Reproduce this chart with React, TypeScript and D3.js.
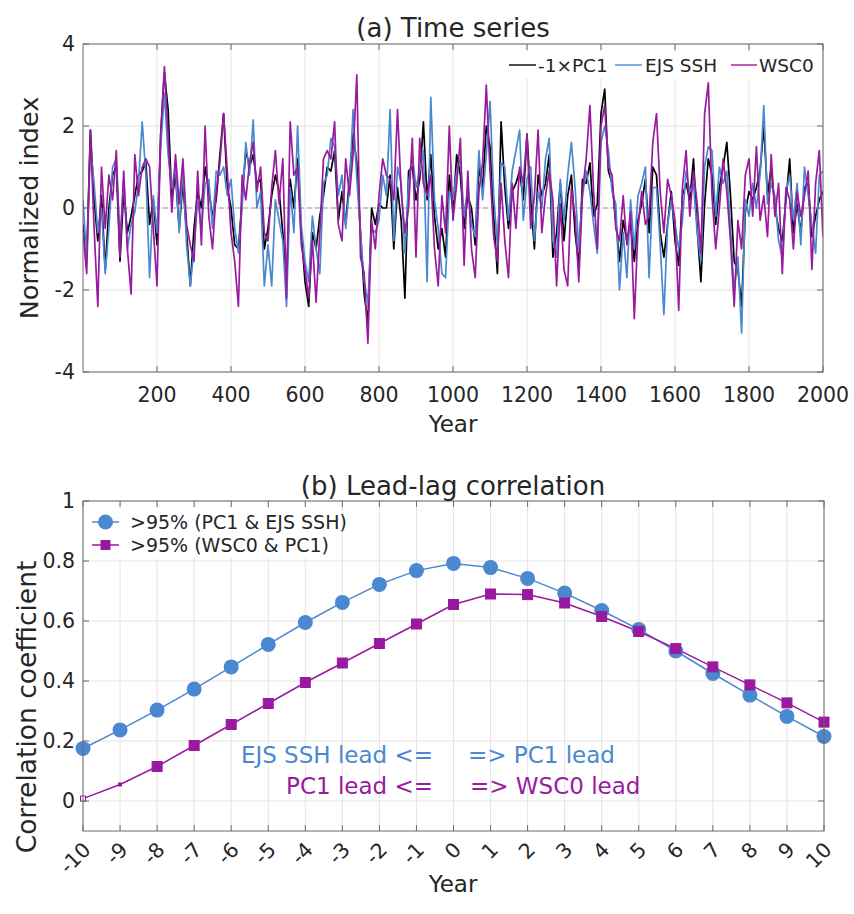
import React from 'react';
import * as d3 from 'd3';

// ---- Panel (a) data: normalized indices, sampled every 10 years (year 0 .. 2000) ----
const pc1Neg = [
  -0.4, -1.2, 1.9, 0.2, -0.8, 0.3, -1.5, 0.0, 0.8, 1.0,
  -1.3, 0.4, -0.6, -0.2, 0.3, 0.8, 0.9, 1.1, -0.4, 0.2,
  -0.9, 1.8, 3.3, 2.4, 0.2, 0.8, -0.5, 0.6, -0.6, -1.9,
  -0.5, 0.4, 0.0, 1.0, 0.4, -0.2, 0.2, 1.3, 2.3, 0.5,
  0.0, -0.9, -1.0, 0.2, 1.4, 1.0, 1.3, 0.6, 0.7, -1.0,
  -0.5, 0.3, 0.8, 0.4, -0.6, -1.8, 0.7, 0.0, 1.2, -0.6,
  -1.8, -2.4, -0.6, -1.0, -0.2, 0.3, 1.0, 0.9, 1.4, -0.3,
  0.4, -0.4, 0.7, 1.8, 1.1, -0.6, -2.1, -2.8, 0.0, -0.4,
  0.1, 0.0, 0.0, 0.8, -1.0, 0.5, -0.3, -2.2, 0.9, 1.0,
  0.2, 0.7, 2.1, 0.2, 1.3, -0.2, -1.0, -0.5, -1.2, 0.8,
  -0.1, 1.3, 0.8, -0.5, 0.3, 0.0, -0.9, 1.0, 0.5, 2.0,
  1.5, -0.2, -1.6, 2.1, 0.5, -0.5, 0.4, 0.6, 0.9, 0.2,
  1.8, 0.2, -1.0, 0.8, 0.3, 0.6, 1.3, -1.2, -0.6, 0.6,
  -0.8, 0.3, 0.8, -0.6, -1.4, 0.7, 0.6, 1.1, -0.2, 0.1,
  2.3, 2.9, 0.9, 0.6, -0.3, -1.3, -0.3, -0.8, -0.4, -1.3,
  -0.3, 0.1, 0.7, -0.6, 1.0, 0.8, -0.6, -1.2, -0.4, 0.4,
  -0.8, -1.4, 0.3, 0.6, 0.2, 1.2, -0.5, -1.8, 0.1, 1.2,
  0.8, -0.4, 0.5, 1.0, 1.6, 0.3, -1.3, -1.5, -2.4, -0.1,
  0.4, 0.2, 0.5, 0.9, 2.0, 0.3, 1.0, 0.0, -0.5, -0.8,
  0.2, 1.2, -0.6, 0.1, -0.6, 0.5, 0.6, -0.7, -0.2, 0.2,
  0.4,
];
const ejsSsh = [
  0.2, -1.3, 1.5, 0.6, -0.6, 0.0, -1.6, -0.5, 1.0, 1.2,
  -0.8, 0.7, -1.0, -0.4, -0.1, 0.6, 2.1, 0.8, -1.7, 0.3,
  -0.6, 1.5, 2.8, 1.3, 0.5, 1.0, -0.6, 1.0, -0.9, -1.9,
  -1.0, 0.2, -0.5, 0.6, 0.7, -0.5, 0.9, 0.8, 1.0, 0.3,
  0.7, -0.5, -1.1, 0.0, 1.6, 0.8, 2.15, 0.0, 0.4, -1.9,
  -0.9, -1.9, 0.2, -0.3, -0.8, -2.4, 0.5, -0.6, 2.0, -0.4,
  -1.3, -1.8, -0.2, -1.0, -1.6, 0.6, 0.8, 1.7, 1.5, 0.3,
  0.8, -0.5, 0.5, 2.4, 0.7, -0.6, -1.8, -2.3, -0.5, -0.6,
  -0.3, 0.8, 0.3, 2.4, -0.8, 1.0, 0.6, -1.1, 0.6, 1.3,
  0.5, 0.9, 1.4, -1.8, 2.7, 0.2, -0.5, -1.6, -1.7, 0.4,
  0.2, 0.9, 1.2, -0.2, 0.5, -0.4, -0.7, 1.4, 0.2, 1.3,
  2.6, 0.3, -0.9, 1.1, 1.0, -0.3, 0.9, 1.4, 1.9, -0.3,
  0.7, 1.0, -0.8, 0.4, 0.0, 1.2, 1.7, -0.8, -1.2, 0.7,
  -0.3, 0.8, 1.6, 0.5, -1.0, 0.3, 0.9, 0.4, -0.4, -1.1,
  1.6, 2.0, 1.4, 0.4, 0.1, -2.0, -0.6, -1.7, 0.2, -1.0,
  0.3, 0.6, 1.0, -1.7, 0.5, 0.5, -0.9, -2.6, -0.4, 0.2,
  -0.4, -1.0, -0.3, 0.9, 0.4, 0.6, -0.6, -1.3, 1.0, 1.5,
  1.4, -0.2, 1.0, 0.6, 0.9, -0.5, -2.0, -1.2, -3.05, 0.2,
  -0.2, 0.6, 0.0, 0.8, 2.5, 0.1, 0.6, 0.3, -0.8, -1.2,
  0.4, 0.8, -0.3, 0.6, -0.9, 1.0, 0.3, -0.4, -1.1, 0.8,
  0.9,
];
const wsc0 = [
  -0.6, -1.6, 1.9, -0.5, -2.4, 1.0, -0.5, 0.8, 0.2, 1.4,
  -1.2, 0.9, -1.0, -2.1, 1.3, 0.3, 1.0, 1.2, 1.0, -0.5,
  -1.9, 1.8, 3.45, 1.8, -0.1, 1.3, 0.1, 1.2, -0.4, -0.9,
  -1.3, 0.9, -0.9, 2.0, -0.2, -1.0, 0.4, 1.1, 2.3, 0.9,
  -0.6, -1.3, -2.4, 0.8, 0.2, 1.1, 1.6, 0.4, 1.0, -0.6,
  -0.8, 0.5, 1.4, 0.1, 1.2, -2.2, 2.1, 0.8, 1.0, -0.9,
  -1.5, -2.2, -0.8, -2.3, -0.6, 1.2, 1.4, 1.2, 2.1, -0.4,
  -0.8, 1.2, 0.3, 1.3, 3.25, -1.2, -1.6, -3.3, -0.3, -1.0,
  0.3, 1.2, 0.8, 0.7, 0.2, 2.4, 0.4, -0.6, 0.0, 1.7,
  -1.2, 1.7, 0.6, 0.3, 0.8, -1.0, -1.9, 0.3, -0.6, 2.0,
  -0.3, 0.6, 1.7, -1.4, 0.9, -1.0, -1.7, 0.4, 1.1, 3.0,
  0.9, -0.7, -1.3, 0.6, -0.8, -1.7, 0.6, -0.5, 1.0, 0.6,
  1.8, -0.5, 0.3, 1.9, -0.6, 0.3, 0.9, 0.2, -1.9, 0.1,
  -1.5, -1.9, 0.5, -0.2, -1.8, 0.4, 1.2, 2.5, 0.4, -1.0,
  2.0, 2.5, 1.0, 0.8, -0.5, -0.8, 0.3, -0.9, -0.1, -2.7,
  -0.5, 0.4, -0.4, -0.2, 1.6, 2.3, 0.4, -0.6, 0.7, 0.3,
  -0.3, -2.5, 0.5, 1.4, -0.2, 0.9, 0.1, -1.1, 2.3, 3.05,
  0.3, -1.0, 0.0, 1.2, 0.4, -0.8, -2.4, -0.3, -1.0, 0.8,
  1.2, -0.2, 1.5, -0.3, 0.3, -0.7, 1.3, -0.2, 0.6, -1.6,
  0.5, 0.2, -1.0, 0.4, -0.2, 0.3, 0.9, -1.5, 0.6, 1.4,
  -0.7,
];
const sampleYears = pc1Neg.map((_, i) => i * 10);

const xTicksA = [200, 400, 600, 800, 1000, 1200, 1400, 1600, 1800, 2000];
const yTicksA = [-4, -2, 0, 2, 4];

// ---- Panel (b) data: lead-lag correlation ----
const lags = [-10, -9, -8, -7, -6, -5, -4, -3, -2, -1, 0, 1, 2, 3, 4, 5, 6, 7, 8, 9, 10];
const corrPc1Ssh = [0.175, 0.237, 0.303, 0.373, 0.447, 0.522, 0.595, 0.662, 0.722, 0.768, 0.792,
  0.778, 0.742, 0.693, 0.635, 0.572, 0.500, 0.425, 0.353, 0.282, 0.215];
const corrWscPc1 = [0.008, 0.055, 0.115, 0.185, 0.255, 0.325, 0.395, 0.460, 0.525, 0.590, 0.655,
  0.690, 0.688, 0.660, 0.615, 0.565, 0.508, 0.447, 0.387, 0.327, 0.263];
const sigWscPc1 = [false, false, true, true, true, true, true, true, true, true, true,
  true, true, true, true, true, true, true, true, true, true];
const yTicksB = [0, 0.2, 0.4, 0.6, 0.8, 1];

const BLUE = '#4a88d0';
const PURPLE = '#9a1a9f';
const GRID = '#e4e4e4';
const AXIS = '#6b6b6b';
const TXT = '#262626';
const FONT = "'DejaVu Sans', Verdana, sans-serif";

export default function App() {
  // Panel a geometry
  const aL = 83, aR = 823, aT = 44, aB = 372;
  const xA = d3.scaleLinear().domain([0, 2000]).range([aL, aR]);
  const yA = d3.scaleLinear().domain([-4, 4]).range([aB, aT]);
  const lineA = (vals: number[]) =>
    d3.line<number>().x((_, i) => xA(sampleYears[i])).y((d) => yA(d))(vals) || '';

  // Panel b geometry
  const bL = 83, bR = 824, bT = 501, bB = 831;
  const xB = d3.scaleLinear().domain([-10, 10]).range([bL, bR]);
  const yB = d3.scaleLinear().domain([-0.1, 1]).range([bB, bT]);
  const lineB = (vals: number[]) =>
    d3.line<number>().x((_, i) => xB(lags[i])).y((d) => yB(d))(vals) || '';

  const tick = 6;

  return (
    <svg width={854} height={914} style={{ position: 'absolute', left: 0, top: 0, background: '#fff' }}
      fontFamily={FONT}>
      <defs>
        <clipPath id="clipA"><rect x={aL} y={aT} width={aR - aL} height={aB - aT} /></clipPath>
      </defs>
      <rect x={0} y={0} width={854} height={914} fill="#fff" />

      {/* ================= Panel (a) ================= */}
      <g>
        {xTicksA.map((t) => (
          <line key={'gxa' + t} x1={xA(t)} x2={xA(t)} y1={aT} y2={aB} stroke={GRID} strokeWidth={1} />
        ))}
        {yTicksA.map((t) => (
          <line key={'gya' + t} x1={aL} x2={aR} y1={yA(t)} y2={yA(t)} stroke={GRID} strokeWidth={1} />
        ))}
        <line x1={aL} x2={aR} y1={yA(0)} y2={yA(0)} stroke="#a0a0a0" strokeWidth={1} strokeDasharray="5,3" />
        <g clipPath="url(#clipA)" fill="none" strokeWidth={1.7} strokeLinejoin="round">
          <path d={lineA(pc1Neg)} stroke="#000" />
          <path d={lineA(ejsSsh)} stroke={BLUE} />
          <path d={lineA(wsc0)} stroke={PURPLE} />
        </g>
        <rect x={aL} y={aT} width={aR - aL} height={aB - aT} fill="none" stroke={AXIS} strokeWidth={1} />
        {xTicksA.map((t) => (
          <g key={'txa' + t}>
            <line x1={xA(t)} x2={xA(t)} y1={aB} y2={aB - tick} stroke={AXIS} />
            <line x1={xA(t)} x2={xA(t)} y1={aT} y2={aT + tick} stroke={AXIS} />
            <text x={xA(t)} y={402} textAnchor="middle" fontSize={20.5} fill={TXT}>{t}</text>
          </g>
        ))}
        {yTicksA.map((t) => (
          <g key={'tya' + t}>
            <line x1={aL} x2={aL + tick} y1={yA(t)} y2={yA(t)} stroke={AXIS} />
            <line x1={aR} x2={aR - tick} y1={yA(t)} y2={yA(t)} stroke={AXIS} />
            <text x={75} y={yA(t)} dy="0.36em" textAnchor="end" fontSize={20.5} fill={TXT}>{t}</text>
          </g>
        ))}
        <text x={453} y={37} textAnchor="middle" fontSize={26} fill={TXT}>(a) Time series</text>
        <text x={453} y={432} textAnchor="middle" fontSize={23} fill={TXT}>Year</text>
        <text transform={`translate(38,${(aT + aB) / 2}) rotate(-90)`} textAnchor="middle" fontSize={25.5} fill={TXT}>
          Normalized index
        </text>
        {/* legend */}
        <g fontSize={18.5} fill={TXT}>
          <rect x={505} y={52} width={314} height={26} fill="#fff" />
          <line x1={509} x2={536} y1={65} y2={65} stroke="#000" strokeWidth={1.4} />
          <text x={538} y={65} dy="0.36em">-1×PC1</text>
          <line x1={615} x2={642} y1={65} y2={65} stroke={BLUE} strokeWidth={1.4} />
          <text x={645} y={65} dy="0.36em">EJS SSH</text>
          <line x1={731} x2={757} y1={65} y2={65} stroke={PURPLE} strokeWidth={1.4} />
          <text x={759} y={65} dy="0.36em">WSC0</text>
        </g>
      </g>

      {/* ================= Panel (b) ================= */}
      <g>
        {lags.map((t) => (
          <line key={'gxb' + t} x1={xB(t)} x2={xB(t)} y1={bT} y2={bB} stroke={GRID} strokeWidth={1} />
        ))}
        {yTicksB.map((t) => (
          <line key={'gyb' + t} x1={bL} x2={bR} y1={yB(t)} y2={yB(t)} stroke={GRID} strokeWidth={1} />
        ))}
        <path d={lineB(corrPc1Ssh)} fill="none" stroke={BLUE} strokeWidth={1.5} />
        <path d={lineB(corrWscPc1)} fill="none" stroke={PURPLE} strokeWidth={1.5} />
        {corrPc1Ssh.map((v, i) => (
          <circle key={'cb' + i} cx={xB(lags[i])} cy={yB(v)} r={7.5} fill={BLUE} />
        ))}
        {corrWscPc1.map((v, i) => {
          const s = sigWscPc1[i] ? 10 : (i === 0 ? 5 : 3);
          return (
            <rect key={'sq' + i} x={xB(lags[i]) - s / 2} y={yB(v) - s / 2} width={s} height={s}
              fill={sigWscPc1[i] ? PURPLE : (i === 0 ? '#fff' : PURPLE)} stroke={PURPLE} strokeWidth={1} />
          );
        })}
        <rect x={bL} y={bT} width={bR - bL} height={bB - bT} fill="none" stroke={AXIS} strokeWidth={1} />
        {lags.map((t) => (
          <g key={'txb' + t}>
            <line x1={xB(t)} x2={xB(t)} y1={bB} y2={bB - tick} stroke={AXIS} />
            <line x1={xB(t)} x2={xB(t)} y1={bT} y2={bT + tick} stroke={AXIS} />
            <text transform={`translate(${xB(t) + 9},${851}) rotate(-45)`} textAnchor="end" fontSize={20.5} fill={TXT}>
              {t}
            </text>
          </g>
        ))}
        {yTicksB.map((t) => (
          <g key={'tyb' + t}>
            <line x1={bL} x2={bL + tick} y1={yB(t)} y2={yB(t)} stroke={AXIS} />
            <line x1={bR} x2={bR - tick} y1={yB(t)} y2={yB(t)} stroke={AXIS} />
            <text x={75} y={yB(t)} dy="0.36em" textAnchor="end" fontSize={20.5} fill={TXT}>{t}</text>
          </g>
        ))}
        <text x={453} y={495} textAnchor="middle" fontSize={26} fill={TXT}>(b) Lead-lag correlation</text>
        <text x={453} y={892} textAnchor="middle" fontSize={23} fill={TXT}>Year</text>
        <text transform={`translate(36,${(bT + bB) / 2 + 41}) rotate(-90)`} textAnchor="middle" fontSize={26.5} fill={TXT}>
          Correlation coefficient
        </text>
        {/* legend */}
        <g fontSize={19} fill={TXT}>
          <rect x={87} y={508} width={240} height={50} fill="#fff" />
          <line x1={92} x2={119} y1={522} y2={522} stroke={BLUE} strokeWidth={1.5} />
          <circle cx={105.5} cy={522} r={7.5} fill={BLUE} />
          <text x={130} y={522} dy="0.36em">&gt;95% (PC1 &amp; EJS SSH)</text>
          <line x1={92} x2={119} y1={545} y2={545} stroke={PURPLE} strokeWidth={1.5} />
          <rect x={100.5} y={540} width={10} height={10} fill={PURPLE} />
          <text x={130} y={545} dy="0.36em">&gt;95% (WSC0 &amp; PC1)</text>
        </g>
        {/* annotations */}
        <g fontSize={23}>
          <text x={433} y={763} textAnchor="end" fill={BLUE}>EJS SSH lead &lt;=</text>
          <text x={468} y={763} textAnchor="start" fill={BLUE}>=&gt; PC1 lead</text>
          <text x={433} y={794} textAnchor="end" fill={PURPLE}>PC1 lead &lt;=</text>
          <text x={470} y={794} textAnchor="start" fill={PURPLE}>=&gt; WSC0 lead</text>
        </g>
      </g>
    </svg>
  );
}
